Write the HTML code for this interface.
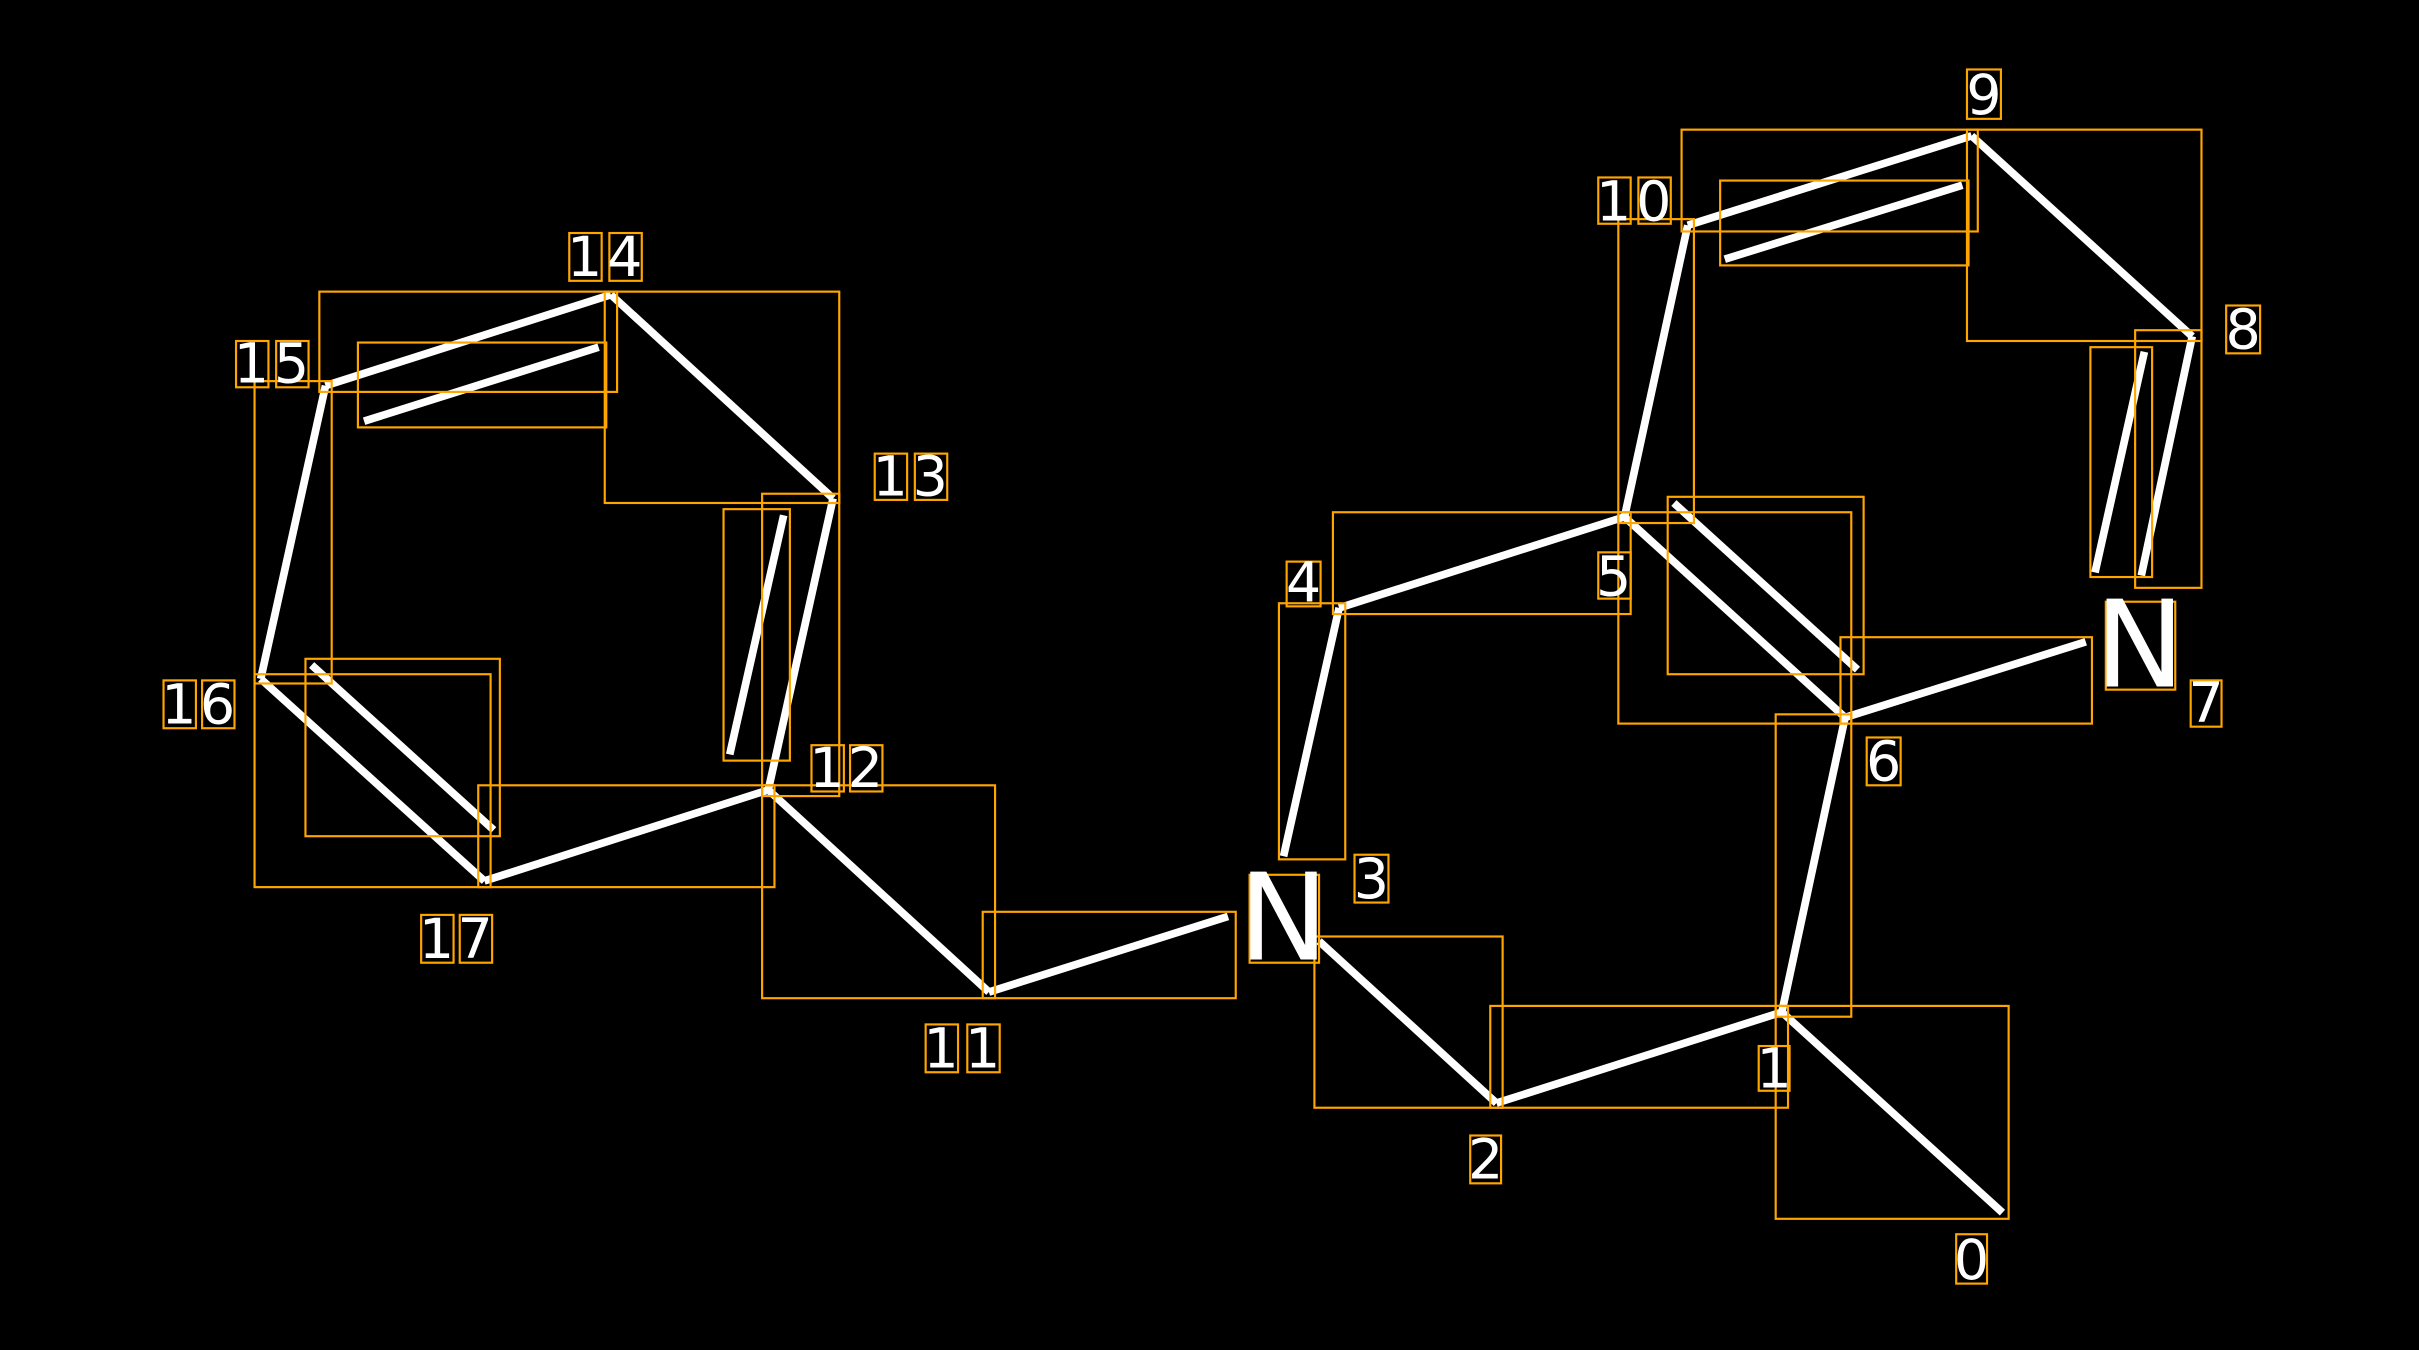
<!DOCTYPE html>
<html><head><meta charset="utf-8"><style>html,body{margin:0;padding:0;background:#000;}svg{display:block}</style></head>
<body>
<svg width="2419" height="1350" viewBox="0 0 1568 875" xmlns="http://www.w3.org/2000/svg">
<rect width="1568" height="875" fill="#000"/>
<g stroke="#fff" stroke-width="5" stroke-linecap="butt">
<line x1="1298" y1="786" x2="1155" y2="656"/>
<line x1="1155" y1="656" x2="970" y2="715"/>
<line x1="970" y1="715" x2="855" y2="610"/>
<line x1="868" y1="394" x2="832" y2="555"/>
<line x1="868" y1="394" x2="1053" y2="335"/>
<line x1="1053" y1="335" x2="1196" y2="465"/>
<line x1="1085" y1="326" x2="1204" y2="434"/>
<line x1="1196" y1="465" x2="1155" y2="656"/>
<line x1="1196" y1="465" x2="1352" y2="416"/>
<line x1="1053" y1="335" x2="1094" y2="146"/>
<line x1="1094" y1="146" x2="1278" y2="88"/>
<line x1="1118" y1="168" x2="1272" y2="120"/>
<line x1="1278" y1="88" x2="1421" y2="218"/>
<line x1="1421" y1="218" x2="1388" y2="373"/>
<line x1="1390" y1="228" x2="1358" y2="371"/>
<line x1="641" y1="643" x2="796" y2="594"/>
<line x1="641" y1="643" x2="498" y2="512"/>
<line x1="498" y1="512" x2="314" y2="571"/>
<line x1="314" y1="571" x2="169" y2="440"/>
<line x1="202" y1="431" x2="320" y2="538"/>
<line x1="169" y1="440" x2="211" y2="250"/>
<line x1="211" y1="250" x2="396" y2="191"/>
<line x1="236" y1="273" x2="388" y2="225"/>
<line x1="396" y1="191" x2="540" y2="323"/>
<line x1="540" y1="323" x2="498" y2="512"/>
<line x1="508" y1="334" x2="473" y2="489"/>
</g>
<g fill="none" stroke="#FFA500" stroke-width="1.4">
<rect x="1151" y="652" width="151" height="138"/>
<rect x="966" y="652" width="193" height="66"/>
<rect x="852" y="607" width="122" height="111"/>
<rect x="829" y="391" width="43" height="166"/>
<rect x="864" y="332" width="193" height="66"/>
<rect x="1049" y="332" width="151" height="137"/>
<rect x="1081" y="322" width="127" height="115"/>
<rect x="1151" y="463" width="49" height="196"/>
<rect x="1193" y="413" width="163" height="56"/>
<rect x="1049" y="142" width="49" height="197"/>
<rect x="1090" y="84" width="192" height="66"/>
<rect x="1115" y="117" width="161" height="55"/>
<rect x="1275" y="84" width="152" height="137"/>
<rect x="1384" y="214" width="43" height="167"/>
<rect x="1355" y="225" width="40" height="149"/>
<rect x="637" y="591" width="164" height="56"/>
<rect x="494" y="509" width="151" height="138"/>
<rect x="310" y="509" width="192" height="66"/>
<rect x="165" y="437" width="153" height="138"/>
<rect x="198" y="427" width="126" height="115"/>
<rect x="165" y="247" width="50" height="196"/>
<rect x="207" y="189" width="193" height="65"/>
<rect x="232" y="222" width="161" height="55"/>
<rect x="392" y="189" width="152" height="137"/>
<rect x="494" y="320" width="50" height="196"/>
<rect x="469" y="330" width="43" height="163"/>
<!-- label boxes -->
<rect x="1268" y="800" width="20" height="32"/>
<rect x="1140" y="678" width="20" height="29"/>
<rect x="953" y="736" width="20" height="31"/>
<rect x="878" y="554" width="22" height="31"/>
<rect x="834" y="364" width="22" height="29"/>
<rect x="1036" y="358" width="21" height="30"/>
<rect x="1210" y="478" width="22" height="31"/>
<rect x="1420" y="441" width="20" height="30"/>
<rect x="1443" y="198" width="22" height="31"/>
<rect x="1275" y="45" width="22" height="32"/>
<rect x="1036" y="115" width="21" height="30"/><rect x="1062" y="115" width="21" height="30"/>
<rect x="600" y="664" width="21" height="31"/><rect x="627" y="664" width="21" height="31"/>
<rect x="526" y="483" width="21" height="30"/><rect x="551" y="483" width="21" height="30"/>
<rect x="567" y="294" width="21" height="30"/><rect x="593" y="294" width="21" height="30"/>
<rect x="369" y="151" width="21" height="31"/><rect x="395" y="151" width="21" height="31"/>
<rect x="153" y="221" width="21" height="30"/><rect x="179" y="221" width="21" height="30"/>
<rect x="106" y="441" width="21" height="31"/><rect x="131" y="441" width="21" height="31"/>
<rect x="273" y="593" width="21" height="31"/><rect x="298" y="593" width="21" height="31"/>
<rect x="810" y="567" width="45" height="57"/>
<rect x="1365" y="390" width="45" height="57"/>
</g>
<g fill="#fff" font-family="'DejaVu Sans', 'Liberation Sans', sans-serif" font-size="36" text-anchor="middle">
<text x="1278" y="829">0</text>
<text x="1150" y="705">1</text>
<text x="963" y="764">2</text>
<text x="889" y="582">3</text>
<text x="845" y="390">4</text>
<text x="1046" y="386">5</text>
<text x="1221" y="506">6</text>
<text x="1430" y="468">7</text>
<text x="1454" y="226">8</text>
<text x="1286" y="74">9</text>
<text x="1046" y="143">1</text><text x="1072" y="143">0</text>
<text x="610" y="692">1</text><text x="637" y="692">1</text>
<text x="536" y="510">1</text><text x="561" y="510">2</text>
<text x="577" y="321">1</text><text x="603" y="321">3</text>
<text x="379" y="179">1</text><text x="405" y="179">4</text>
<text x="163" y="248">1</text><text x="189" y="248">5</text>
<text x="116" y="469">1</text><text x="141" y="469">6</text>
<text x="283" y="621">1</text><text x="308" y="621">7</text>
<text x="832" y="622" font-size="78">N</text>
<text x="1387" y="445" font-size="78">N</text>
</g>
</svg>
</body></html>
